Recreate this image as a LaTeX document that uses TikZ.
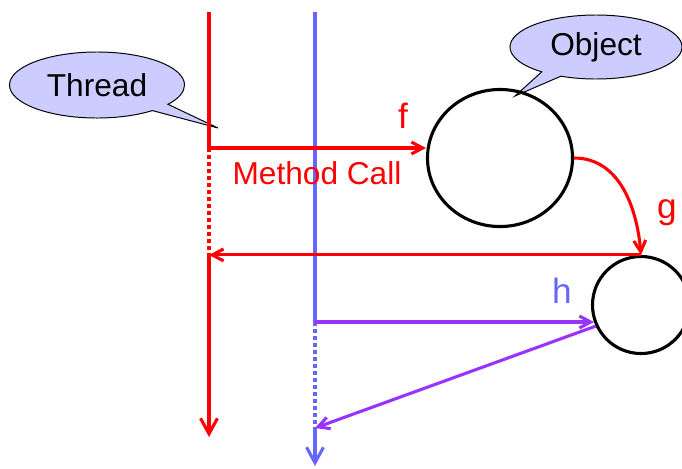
\documentclass[tikz,border=0pt]{standalone}
\usepackage{fontspec}
\setmainfont{Liberation Sans}
\usetikzlibrary{arrows.meta,shapes.callouts,shapes.geometric}
\definecolor{callred}{RGB}{255,0,0}
\definecolor{threadblue}{RGB}{102,102,255}
\definecolor{callpurple}{RGB}{153,51,255}
\definecolor{bubblefill}{RGB}{204,204,255}

\begin{document}
\begin{tikzpicture}[x=0.025cm, y=-0.025cm,
      txt/.style={font=\fontsize{22.5}{26}\selectfont},
      lbl/.style={font=\fontsize{25}{29}\selectfont, anchor=base},
      bubble/.style={ellipse callout, draw=black, line width=0.7pt, fill=bubblefill, inner sep=0pt, txt},
      objnode/.style={draw=black, line width=2.2pt, inner sep=0pt},
      threadline/.style={draw, line width=2.2pt},
      dotline/.style={draw, line width=2.4pt, dash pattern=on 2.6pt off 2.4pt},
      threadend/.style={draw, line width=2.2pt, -{Straight Barb[length=11pt,width=12pt]}},
      callarrow/.style={draw, line width=2.2pt, -{Straight Barb[length=8pt,width=8.5pt]}}]
   \useasboundingbox (0,0) rectangle (682,468);
   % callouts
   \coordinate (thTip) at (218,128);
   \coordinate (objTip) at (515,96);
   \node[bubble, minimum width=4.375cm, minimum height=1.65cm, callout absolute pointer={(thTip)}] (thread) at (97,85) {Thread};
   \node[bubble, minimum width=4.3cm, minimum height=1.6cm, callout absolute pointer={(objTip)}] (object) at (596,47) {Object};
   % objects
   \node[objnode, ellipse, minimum width=3.625cm, minimum height=3.425cm] (big) at (500,158) {};
   \node[objnode, circle, minimum size=2.425cm] (small) at (641,305) {};
   % threads
   \coordinate (rTop) at (209,12);
   \coordinate (rCall) at (209,148);
   \coordinate (rBack) at (rTop |- small.north);
   \coordinate (rEnd) at (209,437);
   \coordinate (bTop) at (315,12);
   \coordinate (bCall) at (315,322);
   \coordinate (bBack) at (315,428);
   \coordinate (bEnd) at (315,466);
   \draw[threadline, callred] (rTop) -- (rCall);
   \draw[dotline, callred] (rCall) -- (rBack);
   \draw[threadend, callred] (rBack) -- (rEnd);
   \draw[threadline, threadblue] (bTop) -- (bCall);
   \draw[dotline, threadblue] (bCall) -- (bBack);
   \draw[threadend, threadblue] (bBack) -- (bEnd);
   % calls
   \draw[callarrow, callred] (rCall) -- (rCall -| big.west);
   \node[lbl, callred] (f) at (403,128) {f};
   \node[txt, callred, anchor=base] (mcall) at (317,184) {Method Call};
   \draw[callarrow, callred] (big.east) to[out=0, in=95] (small.north);
   \node[lbl, callred] (g) at (667,218) {g};
   \draw[callarrow, callred] (small.north) -- (rBack);
   \draw[callarrow, callpurple] (bCall) -- (bCall -| small.200);
   \node[lbl, threadblue] (h) at (562,303) {h};
   \draw[callarrow, callpurple] (small.205) -- (bBack);
\end{tikzpicture}
\end{document}
